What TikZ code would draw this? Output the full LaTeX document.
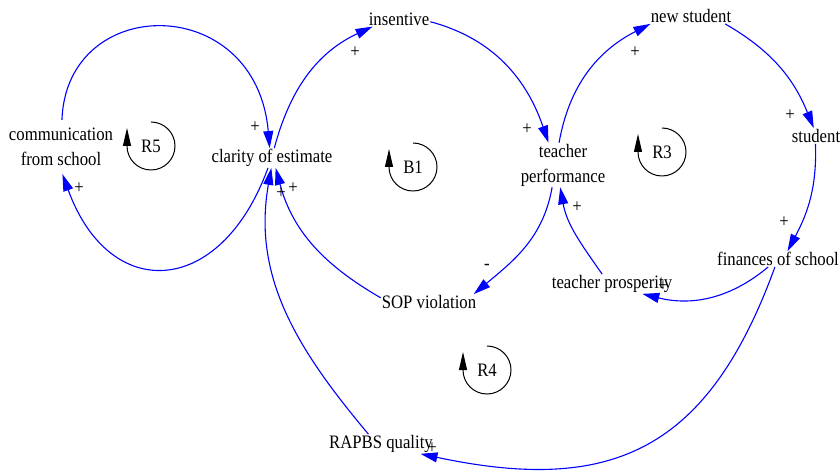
\documentclass[tikz,border=0pt]{standalone}
\usepackage{fontspec}
\setmainfont{Liberation Serif}[FakeStretch=0.88]
\usepackage{tikz}
\usetikzlibrary{arrows.meta}

\begin{document}
\begin{tikzpicture}[x=1pt,y=1pt,
    var/.style={font=\fontsize{19}{25}\selectfont, inner sep=1pt, align=center},
    sign/.style={font=\fontsize{19}{22}\selectfont, inner sep=0pt},
    link/.style={blue, line width=1.1pt, -{Triangle[length=17pt,width=10pt]}},
    loopname/.style={font=\fontsize{19}{22}\selectfont, inner sep=0pt},
    loopmark/.style={black, line width=1pt, -{Triangle[length=18pt,width=8pt]}}]
  \useasboundingbox (0,0) rectangle (840,474);

  % variables
  \node[var, inner ysep=8pt] (comm) at (61,327) {communication\\from school};
  \node[var] (clarity) at (272,316) {clarity of estimate};
  \node[var] (insentive) at (399,455) {insentive};
  \node[var] (teacher) at (563,309) {teacher\\performance};
  \node[var] (newst) at (691,458) {new student};
  \node[var] (student) at (816,338) {student};
  \node[var] (finances) at (778,215) {finances of school};
  \node[var] (prosp) at (612,190) {teacher prosperity};
  \node[var] (sop) at (429,172) {SOP violation};
  \node[var] (rapbs) at (381,30) {RAPBS quality};

  % causal links
  \draw[link] (clarity.77) to[out=75,in=205] (insentive.196);
  \draw[link] (insentive.-5) to[out=-15,in=109] (teacher.123);
  \draw[link] (teacher.100) to[out=80,in=207] (newst.191);
  \draw[link] (newst.-13) to[out=-30,in=112] (student.106);
  \draw[link] (student.-94) to[out=-88,in=62] (finances.40);
  \draw[link] (finances.-141) to[out=-140,in=-14] (prosp.-18);
  \draw[link] (prosp.135) to[out=125,in=-80] (teacher.-97);
  \draw[link] (teacher.-116) to[out=-100,in=40] (sop.10);
  \draw[link] (sop.175) to[out=150,in=-75] (clarity.-70);
  \draw[link] (finances.-111) to[out=-110,in=-12,looseness=1.25] (rapbs.-14);
  \draw[link] (rapbs.142) to[out=130,in=-100] (clarity.-94);
  \draw[link] (clarity.-112) .. controls +(-110:138) and +(-70:138) .. (comm.-87);
  \draw[link] (comm.88) .. controls +(88:127) and +(95:157) .. (clarity.103);

  % polarities
  \node[sign] (s1) at (355,422) {+};
  \node[sign] (s2) at (527,345) {+};
  \node[sign] (s3) at (635,422) {+};
  \node[sign] (s4) at (790,359) {+};
  \node[sign] (s5) at (784,252) {+};
  \node[sign] (s6) at (663,188) {+};
  \node[sign] (s7) at (577,267) {+};
  \node[sign] (s8) at (487,207) {-};
  \node[sign] (s9) at (293,286) {+};
  \node[sign] (s10) at (432,26) {+};
  \node[sign] (s11) at (281,281) {+};
  \node[sign] (s12) at (79,286) {+};
  \node[sign] (s13) at (255,347) {+};

  % loops
  \node[loopname] (R5) at (151,328) {R5};
  \draw[loopmark] ([shift={(90:24)}]R5.center) arc[start angle=90,end angle=-180,radius=24] -- ++(0,18);
  \node[loopname] (B1) at (413,307) {B1};
  \draw[loopmark] ([shift={(90:24)}]B1.center) arc[start angle=90,end angle=-180,radius=24] -- ++(0,18);
  \node[loopname] (R3) at (662,322) {R3};
  \draw[loopmark] ([shift={(90:24)}]R3.center) arc[start angle=90,end angle=-180,radius=24] -- ++(0,18);
  \node[loopname] (R4) at (487,104) {R4};
  \draw[loopmark] ([shift={(90:24)}]R4.center) arc[start angle=90,end angle=-180,radius=24] -- ++(0,18);
\end{tikzpicture}
\end{document}
